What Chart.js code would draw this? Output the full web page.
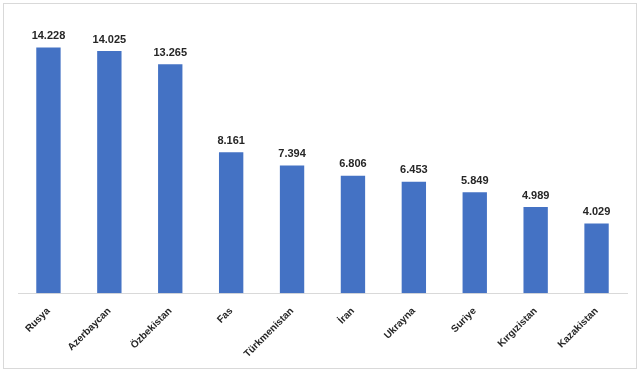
<!DOCTYPE html>
<html lang="tr">
<head>
  <meta charset="UTF-8">
  <title>Ülkeler</title>
  <script src="https://cdn.jsdelivr.net/npm/chart.js"></script>
  <style>
    * { margin: 0; padding: 0; box-sizing: border-box; }
    body { width: 640px; height: 372px; background: #fff; overflow: hidden; }
    .frame {
      position: absolute; left: 3px; top: 3px; width: 634px; height: 366px;
      border: 1px solid #d9d9d9;
    }
    .wrap { position: absolute; left: 0; top: 0; width: 640px; height: 372px; }
  </style>
</head>
<body>
  <div class="frame"></div>
  <div class="wrap"><canvas id="chart" width="640" height="372"></canvas></div>

  <script>
    const countries = ['Rusya', 'Azerbaycan', 'Özbekistan', 'Fas', 'Türkmenistan', 'İran', 'Ukrayna', 'Suriye', 'Kırgızistan', 'Kazakistan'];
    const values = [14228, 14025, 13265, 8161, 7394, 6806, 6453, 5849, 4989, 4029];

    // 14228 -> "14.228"
    const fmt = v => String(v).replace(/\B(?=(\d{3})+(?!\d))/g, '.');

    const valueLabels = {
      id: 'valueLabels',
      afterDatasetsDraw(chart) {
        const ctx = chart.ctx;
        ctx.save();
        ctx.font = 'bold 11px "Liberation Sans", Arial, sans-serif';
        ctx.fillStyle = '#262626';
        ctx.textAlign = 'center';
        ctx.textBaseline = 'bottom';
        chart.getDatasetMeta(0).data.forEach((bar, i) => {
          ctx.fillText(fmt(values[i]), bar.x, bar.y - 6);
        });
        ctx.restore();
      }
    };

    new Chart(document.getElementById('chart'), {
      type: 'bar',
      data: {
        labels: countries,
        datasets: [{
          data: values,
          backgroundColor: '#4472c4',
          categoryPercentage: 1,
          barPercentage: 0.4
        }]
      },
      options: {
        responsive: false,
        animation: false,
        devicePixelRatio: 1,
        layout: { padding: { left: 18, right: 13, top: 17, bottom: 8 } },
        plugins: { legend: { display: false }, tooltip: { enabled: false } },
        scales: {
          x: {
            grid: { display: false },
            border: { color: '#d9d9d9' },
            ticks: {
              color: '#262626',
              font: { family: '"Liberation Sans", Arial, sans-serif', size: 10, weight: 'bold' },
              minRotation: 45,
              maxRotation: 45,
              padding: 4
            }
          },
          y: { display: false, min: 0, max: 16000 }
        }
      },
      plugins: [valueLabels]
    });
  </script>
</body>
</html>
